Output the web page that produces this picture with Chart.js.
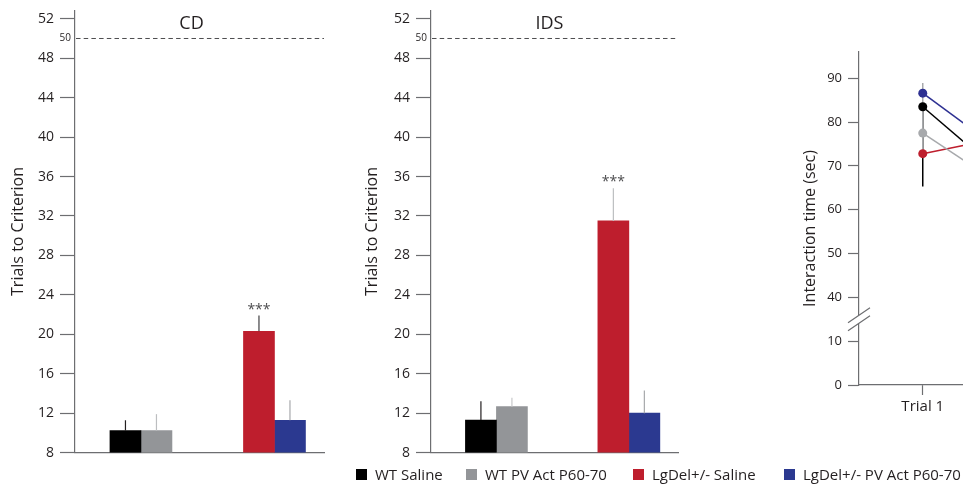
<!DOCTYPE html>
<html>
<head>
<meta charset="utf-8">
<script src="https://cdn.jsdelivr.net/npm/chart.js@4"></script>
<style>
  html, body { margin: 0; padding: 0; background: #fff; }
  body { width: 963px; height: 486px; overflow: hidden; position: relative; font-family: 'Open Sans', sans-serif; }
  canvas { position: absolute; }
  #cd { left: 0; top: -4px; }
  #ids { left: 354px; top: -4px; }
  #social { left: 790px; top: 0; }
  #legend { position: absolute; left: 356px; top: 465px; display: flex; align-items: center;
            font-size: 15px; line-height: 18px; color: #231f20; white-space: nowrap; }
  .item { display: flex; align-items: center; }
  .item:nth-child(1) { width: 110px; }
  .item:nth-child(2) { width: 167px; }
  .item:nth-child(3) { width: 151px; }
  .sw { width: 11px; height: 11px; margin-right: 8px; flex: none; }
</style>
</head>
<body>
<canvas id="cd" width="340" height="471"></canvas>
<canvas id="ids" width="340" height="471"></canvas>
<canvas id="social" width="340" height="440"></canvas>
<div id="legend"></div>
<script>
// ---- groups and series ----
const groups = ['WT', 'LgDel+/-'];
const seriesNames = ['WT Saline', 'WT PV Act P60-70', 'LgDel+/- Saline', 'LgDel+/- PV Act P60-70'];
const seriesGroup = [0, 0, 1, 1];
const seriesColors = ['#000000', '#939598', '#be1e2d', '#2b3990'];
const lineColors = ['#000000', '#a7a9ac', '#be1e2d', '#2e3192'];

// ---- trials to criterion ----
const yTicks = [8, 12, 16, 20, 24, 28, 32, 36, 40, 44, 48, 52];
const criterion = 50;

const cdMean = [10.23, 10.23, 20.3, 11.28];
const cdSem = [1.05, 1.67, 1.6, 2.02];
const cdStars = ['', '', '***', ''];

const idsMean = [11.3, 12.66, 31.5, 12.0];
const idsSem = [1.9, 0.91, 3.3, 2.3];
const idsStars = ['', '', '***', ''];

// ---- social interaction ----
const trials = ['Trial 1', 'Trial 2'];
const socialTicks = [0, 10, 40, 50, 60, 70, 80, 90];
const interaction = [
  [83.5, 58.6],
  [77.5, 58.2],
  [72.8, 78.7],
  [86.6, 65.2]
];
const errUp = [[0, 0], [11.4, 0], [0, 0], [0, 0]];
const errDown = [[18.2, 0], [4.7, 0], [0, 0], [0, 0]];

// ---- shared styling ----
const FONT = "'Open Sans', sans-serif";
const AXIS = '#6d6e71';
const TEXT = '#231f20';
Chart.defaults.font.family = FONT;
Chart.defaults.color = TEXT;

// SEM whiskers and significance marks over each bar
const semBars = {
  id: 'semBars',
  afterDatasetsDraw(chart, args, opts) {
    const { ctx } = chart;
    const y = chart.scales.y;
    chart.data.datasets.forEach((ds, i) => {
      const meta = chart.getDatasetMeta(i);
      meta.data.forEach((bar, j) => {
        const v = ds.data[j].y;
        if (v == null) return;
        const top = y.getPixelForValue(v + opts.sem[i]);
        ctx.save();
        ctx.strokeStyle = opts.colors[i];
        ctx.lineWidth = 1.2;
        ctx.beginPath();
        ctx.moveTo(bar.x, bar.y);
        ctx.lineTo(bar.x, top);
        ctx.stroke();
        if (opts.stars[i]) {
          ctx.fillStyle = '#4d4d4f';
          ctx.font = '14px ' + FONT;
          ctx.textAlign = 'center';
          ctx.textBaseline = 'alphabetic';
          ctx.fillText(opts.stars[i], bar.x, top - 2);
        }
        ctx.restore();
      });
    });
  }
};

// dashed criterion line with its own small label
const criterionLine = {
  id: 'criterionLine',
  beforeDatasetsDraw(chart) {
    const { ctx, chartArea } = chart;
    const py = chart.scales.y.getPixelForValue(criterion);
    ctx.save();
    ctx.strokeStyle = '#4d4d4f';
    ctx.lineWidth = 1;
    ctx.setLineDash([4.5, 3.2]);
    ctx.beginPath();
    ctx.moveTo(chartArea.left + 1, py);
    ctx.lineTo(chartArea.right, py);
    ctx.stroke();
    ctx.setLineDash([]);
    ctx.fillStyle = TEXT;
    ctx.font = '10px ' + FONT;
    ctx.textAlign = 'right';
    ctx.textBaseline = 'middle';
    ctx.fillText(String(criterion), chartArea.left - 4, py);
    ctx.restore();
  }
};

// panel heading inside the plot area
const panelTitle = {
  id: 'panelTitle',
  afterDraw(chart, args, opts) {
    const { ctx, chartArea } = chart;
    ctx.save();
    ctx.fillStyle = TEXT;
    ctx.font = '18px ' + FONT;
    ctx.textAlign = 'center';
    ctx.textBaseline = 'alphabetic';
    ctx.fillText(opts.text, (chartArea.left + chartArea.right) / 2 + opts.shift, chartArea.top + 18.5);
    ctx.restore();
  }
};

function barChart(id, title, mean, sem, stars, errColors, axisWidth, titleShift) {
  return new Chart(document.getElementById(id), {
    type: 'bar',
    data: {
      datasets: seriesNames.map((name, i) => ({
        label: name,
        data: groups.map((g, k) => ({ x: k, y: seriesGroup[i] === k ? mean[i] : null })),
        backgroundColor: seriesColors[i],
        borderWidth: 0,
        barThickness: 31,
        skipNull: true
      }))
    },
    options: {
      responsive: false,
      animation: false,
      events: [],
      layout: { padding: { top: 0, right: 16, bottom: 0, left: 0 } },
      plugins: {
        legend: { display: false },
        tooltip: { enabled: false },
        semBars: { sem: sem, stars: stars, colors: errColors },
        panelTitle: { text: title, shift: titleShift }
      },
      scales: {
        x: {
          type: 'linear', min: -0.494, max: 1.371, offset: false,
          ticks: { display: false },
          grid: { display: false, drawTicks: false },
          border: { color: AXIS, width: 1.2 },
          afterFit(s) { s.height = 0; }
        },
        y: {
          min: 8, max: 52.85,
          afterBuildTicks(s) { s.ticks = yTicks.map(v => ({ value: v })); },
          ticks: { font: { size: 14 }, color: TEXT, padding: 6 },
          grid: { drawOnChartArea: false, tickLength: 15, tickColor: AXIS, tickWidth: 1.2 },
          border: { color: AXIS, width: 1.2 },
          title: { display: true, text: 'Trials to Criterion', font: { size: 16 }, color: TEXT, padding: { top: 9 } },
          afterFit(s) { s.width = axisWidth; }
        }
      }
    },
    plugins: [criterionLine, semBars, panelTitle]
  });
}

barChart('cd', 'CD', cdMean, cdSem, cdStars, ['#231f20', '#bcbec0', '#414042', '#a7a9ac'], 75, -8);
barChart('ids', 'IDS', idsMean, idsSem, idsStars, ['#231f20', '#c7c8ca', '#bcbec0', '#a7a9ac'], 77, -5);

// ---- interaction time with a broken value axis (10 to 40 removed) ----
const toAxis = v => (v <= 10 ? v : v - 20);

const whiskers = {
  id: 'whiskers',
  beforeDatasetsDraw(chart) {
    const { ctx } = chart;
    const y = chart.scales.y;
    chart.data.datasets.forEach((ds, i) => {
      const meta = chart.getDatasetMeta(i);
      meta.data.forEach((pt, j) => {
        const v = interaction[i][j];
        if (!errUp[i][j] && !errDown[i][j]) return;
        ctx.save();
        ctx.strokeStyle = lineColors[i];
        ctx.lineWidth = 1.5;
        ctx.beginPath();
        ctx.moveTo(pt.x, y.getPixelForValue(toAxis(v + errUp[i][j])));
        ctx.lineTo(pt.x, y.getPixelForValue(toAxis(v - errDown[i][j])));
        ctx.stroke();
        ctx.restore();
      });
    });
  }
};

// "//" break marks on the value axis plus its rotated title
const axisBreak = {
  id: 'axisBreak',
  afterDraw(chart) {
    const { ctx, chartArea } = chart;
    const x = chartArea.left;
    const y = chart.scales.y.getPixelForValue(15);
    const a1 = [x - 11, y + 3.5], a2 = [x + 11, y - 11.5];
    const b1 = [x - 11, y + 11.5], b2 = [x + 11, y - 3.5];
    ctx.save();
    ctx.fillStyle = '#fff';
    ctx.beginPath();
    ctx.moveTo(a1[0], a1[1]); ctx.lineTo(a2[0], a2[1]);
    ctx.lineTo(b2[0], b2[1]); ctx.lineTo(b1[0], b1[1]);
    ctx.closePath();
    ctx.fill();
    ctx.strokeStyle = AXIS;
    ctx.lineWidth = 1.2;
    ctx.beginPath();
    ctx.moveTo(a1[0], a1[1]); ctx.lineTo(a2[0], a2[1]);
    ctx.moveTo(b1[0], b1[1]); ctx.lineTo(b2[0], b2[1]);
    ctx.stroke();

    ctx.translate(x - 49, (chartArea.top + chartArea.bottom) / 2 + 10);
    ctx.rotate(-Math.PI / 2);
    ctx.fillStyle = TEXT;
    ctx.font = '16px ' + FONT;
    ctx.textAlign = 'center';
    ctx.textBaseline = 'middle';
    ctx.fillText('Interaction time (sec)', 0, 0);
    ctx.restore();
  }
};

new Chart(document.getElementById('social'), {
  type: 'line',
  data: {
    labels: trials,
    datasets: seriesNames.map((name, i) => ({
      label: name,
      data: interaction[i].map(toAxis),
      borderColor: lineColors[i],
      backgroundColor: lineColors[i],
      borderWidth: 1.5,
      pointRadius: 4.5,
      pointBorderWidth: 0,
      tension: 0
    }))
  },
  options: {
    responsive: false,
    animation: false,
    events: [],
    layout: { padding: { top: 52, right: 16, bottom: 0, left: 0 } },
    plugins: { legend: { display: false }, tooltip: { enabled: false } },
    scales: {
      x: {
        type: 'category', offset: true,
        grid: { drawOnChartArea: false, tickLength: 10, tickColor: AXIS, tickWidth: 1.2 },
        border: { color: AXIS, width: 1.2 },
        ticks: { font: { size: 15 }, color: TEXT, padding: 3 },
        afterFit(s) { s.height = 55; }
      },
      y: {
        min: 0, max: 76,
        afterBuildTicks(s) { s.ticks = socialTicks.map(v => ({ value: toAxis(v) })); },
        ticks: { font: { size: 13 }, color: TEXT, padding: 6, callback: (v, i) => String(socialTicks[i]) },
        grid: { drawOnChartArea: false, tickLength: 11, tickColor: AXIS, tickWidth: 1.2 },
        border: { color: AXIS, width: 1.2 },
        afterFit(s) { s.width = 69; }
      }
    }
  },
  plugins: [whiskers, axisBreak]
});

// ---- shared legend ----
const legend = document.getElementById('legend');
seriesNames.forEach((name, i) => {
  const item = document.createElement('span');
  item.className = 'item';
  const sw = document.createElement('span');
  sw.className = 'sw';
  sw.style.background = seriesColors[i];
  item.appendChild(sw);
  item.appendChild(document.createTextNode(name));
  legend.appendChild(item);
});
</script>
</body>
</html>
